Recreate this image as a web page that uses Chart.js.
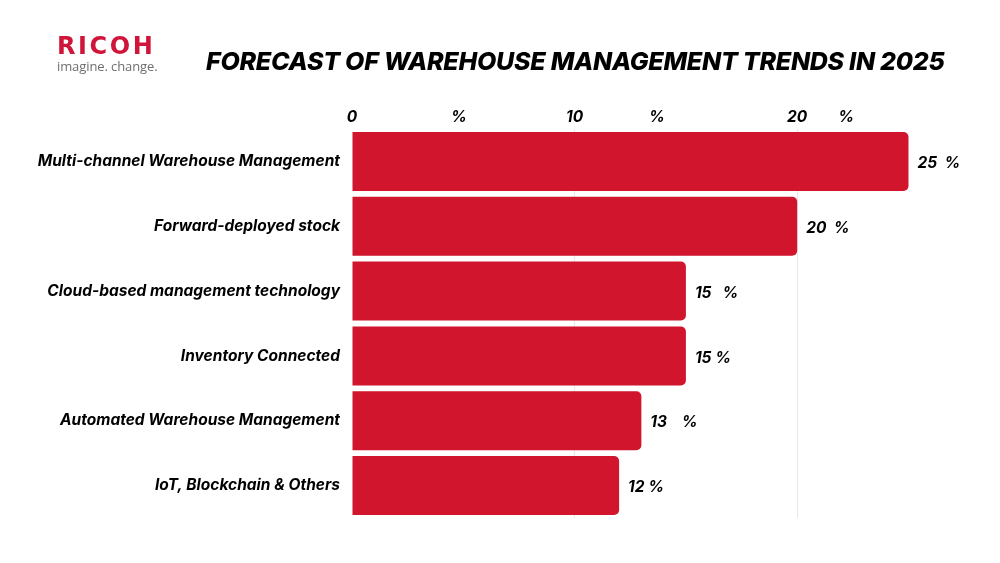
<!DOCTYPE html>
<html>
<head>
<meta charset="utf-8">
<script src="https://cdn.jsdelivr.net/npm/chart.js@4/dist/chart.umd.min.js"></script>
<style>
  html, body { margin: 0; padding: 0; background: #fff; }
  #wrap { position: relative; width: 1000px; height: 563px; overflow: hidden; }
  #chart { position: absolute; left: 0; top: 0; }
  .logo { position: absolute; left: 57px; top: 34px; font-family: 'Open Sans', sans-serif; }
  .logo .brand { color: #d0153a; font-family: 'DejaVu Sans', sans-serif; font-weight: bold; font-size: 24px;
                 letter-spacing: 2.6px; line-height: 24px; }
  .logo .tag { color: #6f6f6f; font-size: 13px; line-height: 16px; letter-spacing: -0.1px; }
  .title { position: absolute; left: 206px; top: 46px; font-family: Inter, sans-serif; font-weight: 800;
           font-style: italic; font-size: 25px; color: #000; white-space: nowrap; letter-spacing: -0.25px; }
</style>
</head>
<body>
<div id="wrap">
  <canvas id="chart" width="1000" height="563"></canvas>
  <div class="logo"><div class="brand">RICOH</div><div class="tag">imagine. change.</div></div>
  <div class="title">FORECAST OF WAREHOUSE MANAGEMENT TRENDS IN 2025</div>
</div>
<script>
// dados
const categories = [
  'Multi-channel Warehouse Management',
  'Forward-deployed stock',
  'Cloud-based management technology',
  'Inventory Connected',
  'Automated Warehouse Management',
  'IoT, Blockchain & Others'
];
const values = [25, 20, 15, 15, 13, 12];
const valueLabels = ['25  %', '20  %', '15   %', '15 %', '13    %', '12 %'];

// eixo superior: números e os "%" soltos
const tickValues = [0, 4.8, 10, 13.7, 20, 22.2];
const tickLabels = ['0', '%', '10', '%', '20', '%'];
const gridValues = [10, 20];

const barColor = '#d0152d';
const labelFont = { family: 'Inter, sans-serif', size: 15.5, weight: 'bold', style: 'italic' };

// rótulos de valor no fim das barras
const valueLabelPlugin = {
  id: 'valueLabels',
  afterDatasetsDraw(chart) {
    const ctx = chart.ctx;
    const meta = chart.getDatasetMeta(0);
    ctx.save();
    ctx.font = `italic bold 15.5px Inter, sans-serif`;
    ctx.fillStyle = '#000';
    ctx.textAlign = 'left';
    ctx.textBaseline = 'middle';
    meta.data.forEach((bar, i) => {
      ctx.fillText(valueLabels[i], bar.x + 9, bar.y + 2);
    });
    ctx.restore();
  }
};

new Chart(document.getElementById('chart'), {
  type: 'bar',
  data: {
    labels: categories,
    datasets: [{
      data: values,
      backgroundColor: barColor,
      borderRadius: { topRight: 5, bottomRight: 5, topLeft: 0, bottomLeft: 0 },
      borderSkipped: false,
      barPercentage: 0.91,
      categoryPercentage: 1
    }]
  },
  options: {
    indexAxis: 'y',
    responsive: false,
    animation: false,
    layout: { padding: { top: 98, right: 47, bottom: 45, left: 0 } },
    plugins: { legend: { display: false }, tooltip: { enabled: false } },
    scales: {
      x: {
        position: 'top',
        min: 0,
        max: 27,
        afterBuildTicks: axis => { axis.ticks = tickValues.map(v => ({ value: v })); },
        afterFit: axis => { axis.height = 31; },
        ticks: {
          color: '#000',
          font: labelFont,
          padding: 2,
          maxRotation: 0,
          autoSkip: false,
          callback: (v, i) => tickLabels[i]
        },
        grid: {
          drawTicks: false,
          lineWidth: 1,
          color: c => (c.tick && gridValues.includes(c.tick.value)) ? '#e8e8e8' : 'rgba(0,0,0,0)'
        },
        border: { display: false }
      },
      y: {
        afterFit: axis => { axis.width = 352; },
        ticks: { color: '#000', font: labelFont, padding: 4 },
        grid: { display: false },
        border: { display: false }
      }
    }
  },
  plugins: [valueLabelPlugin]
});
</script>
</body>
</html>
